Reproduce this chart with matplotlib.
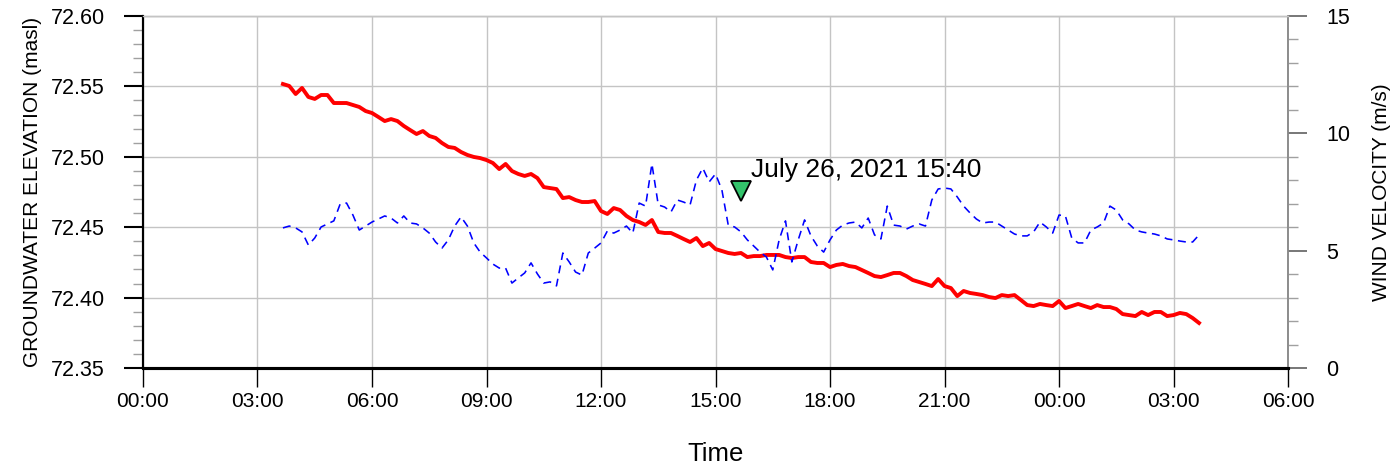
#!/usr/bin/env python3

import pandas as pd
import matplotlib
matplotlib.use("Agg")
import matplotlib.pyplot as plt
import matplotlib.dates as mdates
from matplotlib.ticker import MultipleLocator

plt.rcParams['font.family'] = ['Liberation Sans', 'DejaVu Sans']

# 10-minute readings, 2021-07-26 03:40 -> 2021-07-27 03:40
START = '2021-07-26 03:40'
N_POINTS = 145

# groundwater elevation (masl)
gw_elev = [
    72.5517, 72.5503, 72.5446, 72.5489, 72.5425, 72.5411, 72.5439, 72.5439, 72.5382, 72.5382,
    72.5382, 72.5368, 72.5354, 72.5325, 72.5311, 72.5283, 72.5254, 72.5268, 72.5254, 72.5219,
    72.5190, 72.5162, 72.5183, 72.5148, 72.5134, 72.5098, 72.5070, 72.5063, 72.5034, 72.5013,
    72.4999, 72.4991, 72.4977, 72.4956, 72.4913, 72.4949, 72.4899, 72.4878, 72.4864, 72.4878,
    72.4849, 72.4785, 72.4778, 72.4771, 72.4707, 72.4714, 72.4693, 72.4679, 72.4679, 72.4686,
    72.4615, 72.4594, 72.4636, 72.4622, 72.4580, 72.4551, 72.4537, 72.4516, 72.4551, 72.4466,
    72.4459, 72.4459, 72.4438, 72.4416, 72.4395, 72.4423, 72.4366, 72.4388, 72.4345, 72.4331,
    72.4317, 72.4310, 72.4317, 72.4288, 72.4295, 72.4295, 72.4303, 72.4303, 72.4303, 72.4288,
    72.4281, 72.4288, 72.4288, 72.4253, 72.4246, 72.4246, 72.4217, 72.4232, 72.4239, 72.4224,
    72.4217, 72.4196, 72.4175, 72.4153, 72.4146, 72.4160, 72.4175, 72.4175, 72.4153, 72.4125,
    72.4111, 72.4097, 72.4082, 72.4132, 72.4082, 72.4068, 72.4011, 72.4047, 72.4033, 72.4026,
    72.4018, 72.4004, 72.3997, 72.4018, 72.4011, 72.4018, 72.3983, 72.3947, 72.3940, 72.3955,
    72.3947, 72.3940, 72.3976, 72.3926, 72.3940, 72.3955, 72.3940, 72.3926, 72.3947, 72.3933,
    72.3933, 72.3919, 72.3883, 72.3876, 72.3869, 72.3898, 72.3876, 72.3898, 72.3898, 72.3869,
    72.3876, 72.3891, 72.3883, 72.3855, 72.3820,
]

# wind velocity (m/s)
wind_vel = [
    5.97, 6.05, 5.97, 5.80, 5.24, 5.54, 6.01, 6.14, 6.27, 6.99,
    7.03, 6.52, 5.88, 6.05, 6.22, 6.35, 6.48, 6.39, 6.18, 6.48,
    6.18, 6.14, 5.97, 5.75, 5.37, 5.11, 5.46, 6.05, 6.44, 6.05,
    5.33, 4.94, 4.69, 4.43, 4.26, 4.26, 3.62, 3.84, 4.05, 4.48,
    4.01, 3.62, 3.67, 3.50, 4.90, 4.52, 4.09, 3.96, 4.90, 5.11,
    5.33, 5.84, 5.75, 5.88, 6.05, 5.75, 7.03, 6.90, 8.70, 6.95,
    6.86, 6.65, 7.16, 7.07, 6.95, 8.01, 8.52, 7.93, 8.27, 7.59,
    6.09, 6.01, 5.80, 5.46, 5.20, 4.94, 4.73, 4.18, 5.46, 6.27,
    4.52, 5.46, 6.31, 5.63, 5.20, 4.94, 5.46, 5.88, 6.09, 6.18,
    6.22, 5.97, 6.39, 5.67, 5.50, 6.90, 6.09, 6.05, 5.92, 6.05,
    6.14, 6.05, 7.16, 7.63, 7.67, 7.63, 7.29, 6.90, 6.61, 6.35,
    6.18, 6.22, 6.22, 6.05, 5.88, 5.71, 5.63, 5.63, 5.80, 6.22,
    6.01, 5.75, 6.52, 6.48, 5.54, 5.33, 5.33, 5.88, 6.01, 6.18,
    6.90, 6.73, 6.31, 6.14, 5.88, 5.80, 5.75, 5.71, 5.63, 5.50,
    5.46, 5.41, 5.37, 5.37, 5.67,
]

event_time = '2021-07-26 15:40'
event_elev = 72.476
event_label = 'July 26, 2021 15:40'

x_start = '2021-07-26 00:00'
x_end = '2021-07-27 06:00'


def main():
    times = pd.date_range(START, periods=N_POINTS, freq='10min')

    fig = plt.figure(figsize=(13.99, 4.72), dpi=100)
    ax = fig.add_axes([0.1022, 0.2203, 0.8185, 0.7458])
    ax2 = ax.twinx()

    ax.plot(times, gw_elev, color='#ff0000', linewidth=2.8, zorder=3)
    ax2.plot(times, wind_vel, color='#0000ff', linewidth=1.15, dashes=(5, 3.5))

    ax.plot(pd.Timestamp(event_time), event_elev, marker='v', markersize=15,
            markerfacecolor='#33c36b', markeredgecolor='black', markeredgewidth=1.3,
            linestyle='none', zorder=5)
    ax.annotate(event_label, xy=(pd.Timestamp(event_time), event_elev),
                xytext=(7, 10), textcoords='offset points', fontsize=19,
                ha='left', va='baseline')

    ax.set_xlim(pd.Timestamp(x_start), pd.Timestamp(x_end))
    ax.set_ylim(72.35, 72.60)
    ax2.set_ylim(0, 15)

    ax.xaxis.set_major_locator(mdates.HourLocator(byhour=range(0, 24, 3)))
    ax.xaxis.set_major_formatter(mdates.DateFormatter('%H:%M'))
    ax.yaxis.set_major_locator(MultipleLocator(0.05))
    ax.yaxis.set_minor_locator(MultipleLocator(0.01))
    ax.yaxis.set_major_formatter(plt.FuncFormatter(lambda v, p: f'{v:.2f}'))
    ax2.yaxis.set_major_locator(MultipleLocator(5))
    ax2.yaxis.set_minor_locator(MultipleLocator(1))

    ax.grid(True, which='major', color='#c4c4c4', linewidth=1.0)
    ax.set_axisbelow(True)

    ax.tick_params(axis='x', which='major', length=13.5, width=1.0, color='black',
                   pad=4, labelsize=15)
    ax.tick_params(axis='y', which='major', length=14, width=1.5, color='black',
                   pad=13.5, labelsize=15.5)
    ax.tick_params(axis='y', which='minor', length=7, width=1.0, color='#a0a0a0')
    ax2.tick_params(axis='y', which='major', length=13.5, width=1.2, color='#606060',
                    pad=14, labelsize=15.5)
    ax2.tick_params(axis='y', which='minor', length=7, width=1.0, color='#a0a0a0')

    for a in (ax, ax2):
        a.spines['top'].set_color('#c4c4c4')
        a.spines['top'].set_linewidth(1.0)
        a.spines['left'].set_color('black')
        a.spines['left'].set_linewidth(1.5)
        a.spines['bottom'].set_color('black')
        a.spines['bottom'].set_linewidth(2.2)
        a.spines['right'].set_color('#8c8c8c')
        a.spines['right'].set_linewidth(1.2)

    ax.set_xlabel('Time', fontsize=18.5, labelpad=22)
    ax.set_ylabel('GROUNDWATER ELEVATION (masl)', fontsize=15, labelpad=6)
    ax2.set_ylabel('WIND VELOCITY (m/s)', fontsize=15, labelpad=16)

    fig.savefig('out.png', dpi=100)


if __name__ == '__main__':
    main()
